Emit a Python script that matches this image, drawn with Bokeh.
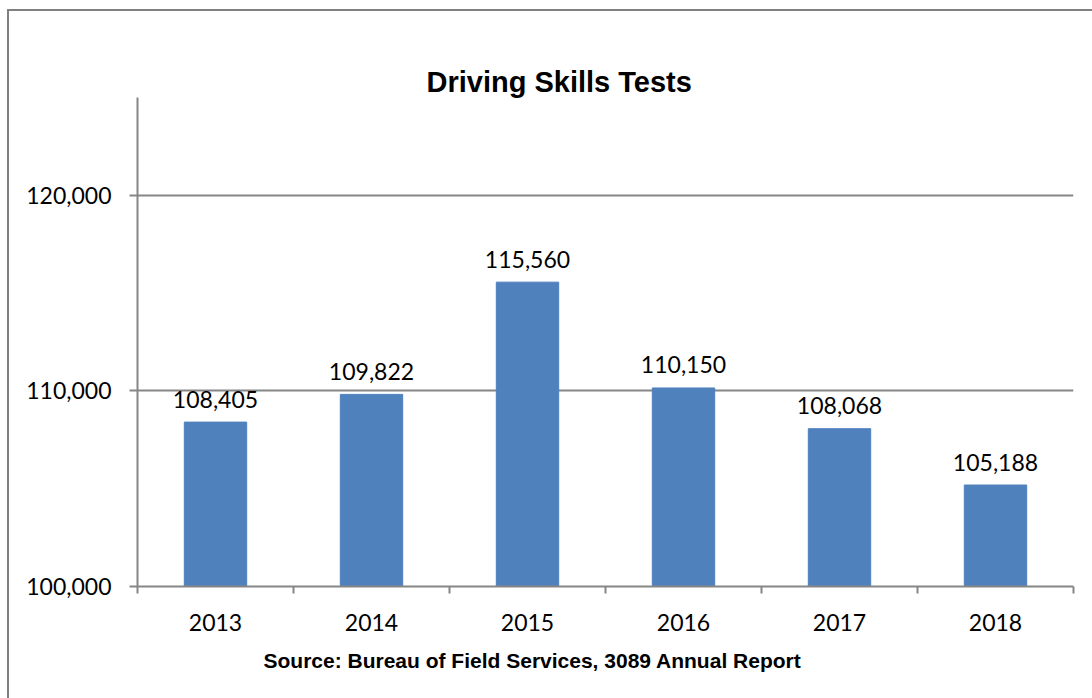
from bokeh.plotting import figure
from bokeh.models import Range1d, FixedTicker, NumeralTickFormatter, ColumnDataSource, Title, LinearAxis, Grid
from bokeh.core.properties import value
from bokeh.embed import file_html
from bokeh.resources import INLINE

years = ["2013", "2014", "2015", "2016", "2017", "2018"]
tests = [108405, 109822, 115560, 110150, 108068, 105188]
y_ticks = [100000, 110000, 120000]

idx = list(range(len(years)))
labels = [f"{v:,}" for v in tests]
src = ColumnDataSource(dict(x=idx, top=tests, label=labels))

p = figure(width=1083, height=687, output_backend="svg", toolbar_location=None,
           x_range=Range1d(-0.5, len(years) - 0.5), y_range=Range1d(100000, 125000),
           min_border_left=128, min_border_right=19, min_border_top=86, min_border_bottom=112,
           x_axis_type=None, y_axis_type=None)
p.styles = {"margin-left": "9px", "margin-top": "11px", "background-color": "white",
            "box-shadow": "8px 8px 0px 10px #808080"}
p.outline_line_color = None
p.background_fill_color = "white"
p.border_fill_color = "white"

ygrid = Grid(dimension=1, ticker=FixedTicker(ticks=y_ticks),
             grid_line_color="#868686", grid_line_width=2)
p.add_layout(ygrid)

p.vbar(x="x", top="top", bottom=100000, width=0.4, source=src,
       fill_color="#4F81BD", line_color="#4F81BD")
p.text(x="x", y="top", text="label", source=src, text_align="center",
       text_baseline="alphabetic", y_offset=-23, text_font=value("Lato"),
       text_font_size="23px", text_color="black")

xaxis = LinearAxis(ticker=FixedTicker(ticks=idx, minor_ticks=[i - 0.5 for i in range(len(years) + 1)]))
xaxis.major_label_overrides = {i: y for i, y in zip(idx, years)}
xaxis.major_tick_out = 0
xaxis.major_tick_in = 0
xaxis.minor_tick_out = 7
xaxis.minor_tick_in = 0
xaxis.minor_tick_line_color = "#868686"
xaxis.minor_tick_line_width = 2
xaxis.axis_line_color = "#868686"
xaxis.axis_line_width = 2
xaxis.major_label_text_font = "Lato"
xaxis.major_label_text_font_size = "23px"
xaxis.major_label_text_color = "black"
xaxis.major_label_standoff = 20
p.add_layout(xaxis, "below")

yaxis = LinearAxis(ticker=FixedTicker(ticks=y_ticks), formatter=NumeralTickFormatter(format="0,0"))
yaxis.major_tick_out = 8
yaxis.major_tick_in = 0
yaxis.minor_tick_out = 0
yaxis.minor_tick_in = 0
yaxis.major_tick_line_color = "#868686"
yaxis.major_tick_line_width = 2
yaxis.axis_line_color = "#868686"
yaxis.axis_line_width = 2
yaxis.major_label_text_font = "Lato"
yaxis.major_label_text_font_size = "23px"
yaxis.major_label_text_color = "black"
yaxis.major_label_standoff = 18
p.add_layout(yaxis, "left")

# built-in title left empty; explicit titles stacked above the plot area
p.title.text = ""
p.title.standoff = 0

main_title = Title(text="Driving Skills Tests", align="left", offset=289,
                   text_font="Liberation Sans", text_font_style="bold",
                   text_font_size="29px", text_color="black", standoff=0)
p.add_layout(main_title, "above")

spacer = Title(text=".", text_font="Liberation Sans", text_font_size="29px",
               text_alpha=0, standoff=2)
p.add_layout(spacer, "above")

source_title = Title(text="Source: Bureau of Field Services, 3089 Annual Report",
                     align="left", offset=126, text_font="Liberation Sans",
                     text_font_style="bold", text_font_size="21px", text_color="black",
                     standoff=27)
p.add_layout(source_title, "below")

open("out.html", "w").write(file_html(p, INLINE))
